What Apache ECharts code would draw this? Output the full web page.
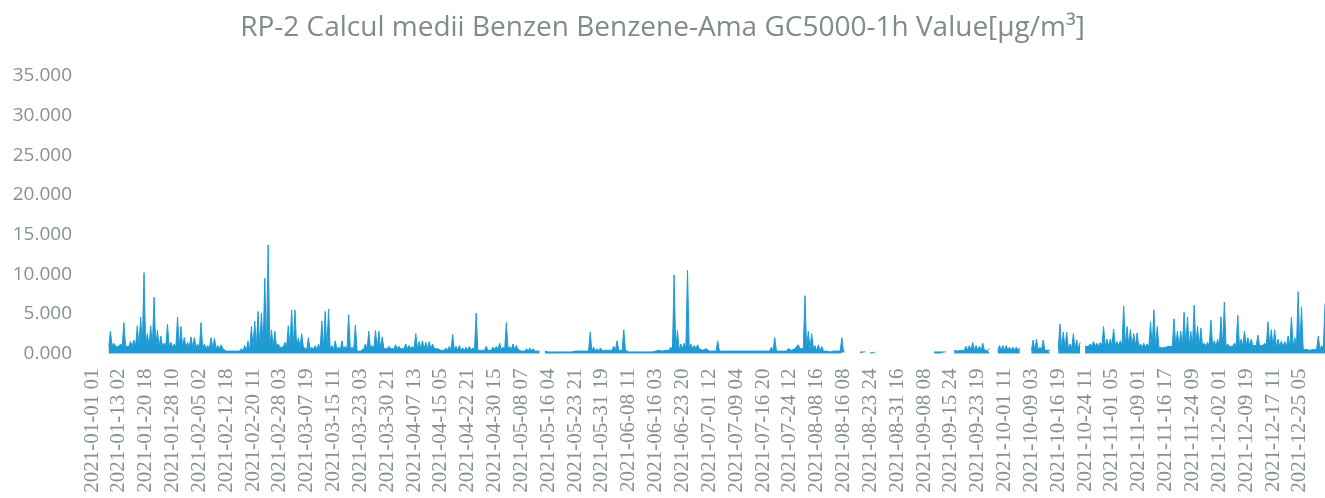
<!DOCTYPE html>
<html><head><meta charset="utf-8">
<script src="https://cdn.jsdelivr.net/npm/echarts@6/dist/echarts.min.js"></script>
<style>html,body{margin:0;padding:0;background:#fff}#c{width:1325px;height:498px}</style>
</head><body><div id="c"></div>
<script>
const chartTitle = 'RP-2 Calcul medii Benzen Benzene-Ama GC5000-1h Value[µg/m³]';
const tickLabels = [
 '2021-01-01 01','2021-01-13 02','2021-01-20 18','2021-01-28 10','2021-02-05 02','2021-02-12 18',
 '2021-02-20 11','2021-02-28 03','2021-03-07 19','2021-03-15 11','2021-03-23 03','2021-03-30 21',
 '2021-04-07 13','2021-04-15 05','2021-04-22 21','2021-04-30 15','2021-05-08 07','2021-05-16 04',
 '2021-05-23 21','2021-05-31 19','2021-06-08 11','2021-06-16 03','2021-06-23 20','2021-07-01 12',
 '2021-07-09 04','2021-07-16 20','2021-07-24 12','2021-08-08 16','2021-08-16 08','2021-08-23 24',
 '2021-08-31 16','2021-09-08 08','2021-09-15 24','2021-09-23 19','2021-10-01 11','2021-10-09 03',
 '2021-10-16 19','2021-10-24 11','2021-11-01 05','2021-11-09 01','2021-11-16 17','2021-11-24 09',
 '2021-12-02 01','2021-12-09 19','2021-12-17 11','2021-12-25 05'
];
const bucketsPerTick = 8;
// typical low level of the hourly values in each tick interval
const baseLevel = [
 0.9,0.9,0.9,0.8,0.6,0.3,0.8,0.8,0.5,0.5,0.6,0.6,0.6,0.4,0.4,0.5,0.3,0.2,0.3,0.4,0.2,0.4,0.6,
 0.3,0.3,0.3,0.6,0.3,0.2,0.1,0.1,0.2,0.4,0.4,0.4,0.4,0.6,0.9,1.0,0.8,0.9,0.9,0.9,1.0,0.8,0.5
];
// highest hourly value within each bucket (8 buckets per tick interval)
const peakValues = [
 null,null,null,null,null,2.8,1.3,1.1,
 1.2,3.9,1.0,1.5,1.7,3.5,4.6,10.2,
 2.5,3.5,7.1,2.9,2.2,1.3,3.7,1.4,
 1.2,4.6,3.4,2.0,1.4,2.1,2.0,1.2,
 3.9,1.2,1.0,2.0,1.9,1.0,1.1,0.7,
 0.4,0.3,0.4,0.5,0.6,1.0,1.6,3.4,
 4.1,5.3,5.1,9.5,13.7,3.0,2.8,1.2,
 1.0,1.4,3.5,5.5,5.5,2.0,2.5,1.0,
 2.0,0.8,1.0,1.2,4.1,5.3,5.6,1.0,
 1.6,0.8,1.6,0.9,4.9,0.8,3.6,0.3,
 0.3,1.2,2.8,1.0,2.9,2.8,2.1,0.8,
 0.9,0.8,1.1,0.9,0.8,1.2,1.0,0.9,
 2.5,1.5,1.6,1.4,1.5,1.2,0.7,0.6,
 0.6,0.7,0.9,2.4,0.9,1.0,0.7,0.8,
 0.9,0.7,5.1,0.5,0.4,0.9,0.6,0.8,
 0.9,1.3,0.8,3.9,0.9,1.2,1.0,0.6,
 0.3,0.6,0.7,0.6,0.3,0.3,null,0.3,
 0.3,0.2,0.3,0.2,0.3,0.2,0.3,0.3,
 0.3,0.4,0.3,0.5,2.7,0.8,0.6,0.7,
 0.6,0.5,0.6,0.9,1.6,0.6,3.0,0.5,
 0.4,0.3,0.2,0.3,0.2,0.3,0.2,0.3,
 0.3,0.4,0.3,0.5,0.8,9.9,2.9,1.2,
 1.3,10.5,1.2,1.0,1.1,0.8,0.4,0.6,
 0.3,0.4,1.6,0.4,0.3,0.5,0.3,0.4,
 0.4,0.4,0.5,0.4,0.3,0.4,0.3,0.4,
 0.3,0.4,0.8,2.0,0.3,0.3,0.5,0.6,
 0.4,0.6,1.1,0.8,7.3,2.8,2.5,1.0,
 1.1,0.9,0.3,0.3,0.2,0.3,0.4,2.0,
 0.2,null,null,null,null,0.2,0.2,null,
 0.2,0.2,null,null,null,null,null,null,
 null,null,null,null,null,null,null,null,
 null,null,null,0.3,0.2,0.3,0.2,null,
 null,0.4,0.3,0.5,0.9,1.0,1.4,1.0,
 0.9,1.3,0.6,0.6,null,null,1.0,1.0,
 1.0,0.8,0.8,0.8,0.7,null,null,null,
 1.7,1.8,0.8,1.7,0.6,0.4,null,null,
 3.7,2.7,2.7,1.2,2.5,1.7,1.4,null,
 1.0,1.2,1.5,1.3,1.4,3.4,1.8,1.8,
 3.1,1.5,1.6,6.0,3.4,3.0,2.5,2.6,
 1.2,1.3,1.2,4.0,5.5,3.4,0.8,0.7,
 0.8,0.9,4.4,2.8,2.8,5.2,4.6,2.8,
 6.1,3.4,3.2,1.3,1.4,4.2,1.6,1.8,
 4.6,6.5,1.2,1.1,1.3,4.8,1.8,2.8,
 2.0,1.8,1.2,2.3,1.2,1.3,4.0,3.0,
 3.0,1.8,1.6,1.5,2.2,4.6,2.0,7.8,
 5.9,0.5,0.5,0.4,0.6,2.2,1.0,6.3
];
const yTicks = {min: 0, max: 35, step: 5};

const cats = [], seriesData = [];
for (let b = 0; b < peakValues.length; b++) {
  const t = Math.floor(b / bucketsPerTick);
  const p = peakValues[b];
  const lo = p == null ? null : Math.min(baseLevel[t], p);
  cats.push(b % bucketsPerTick === 0 ? tickLabels[t] : '', '');
  seriesData.push(lo, p);
}
const labelEvery = bucketsPerTick * 2;

const chart = echarts.init(document.getElementById('c'), null, {renderer: 'canvas'});
chart.setOption({
  animation: false,
  backgroundColor: '#ffffff',
  title: {
    text: chartTitle, left: 'center', top: 9,
    textStyle: {fontFamily: 'Open Sans', fontSize: 28, fontWeight: 'normal', color: '#7f8c86'}
  },
  grid: {left: 92, right: 0, top: 76, bottom: 144.5, containLabel: false},
  xAxis: {
    type: 'category', data: cats, boundaryGap: false,
    axisLine: {show: false},
    axisTick: {show: false},
    splitLine: {show: false},
    axisLabel: {
      interval: (i) => i % labelEvery === 0,
      rotate: 90, margin: 15, hideOverlap: false,
      fontFamily: '"Liberation Serif", serif', fontSize: 21, color: '#86928b'
    }
  },
  yAxis: {
    type: 'value', min: yTicks.min, max: yTicks.max, interval: yTicks.step,
    axisLine: {show: false}, axisTick: {show: false}, splitLine: {show: false},
    axisLabel: {
      margin: 20, fontFamily: 'Open Sans', fontSize: 19, color: '#86928b',
      formatter: (v) => v.toFixed(3)
    }
  },
  series: [{
    type: 'line', data: seriesData, showSymbol: false, connectNulls: false,
    sampling: null,
    lineStyle: {color: '#1f9bd4', width: 1},
    itemStyle: {color: '#1f9bd4'},
    areaStyle: {color: '#1f9bd4', opacity: 1}
  }]
});
</script>
</body></html>
